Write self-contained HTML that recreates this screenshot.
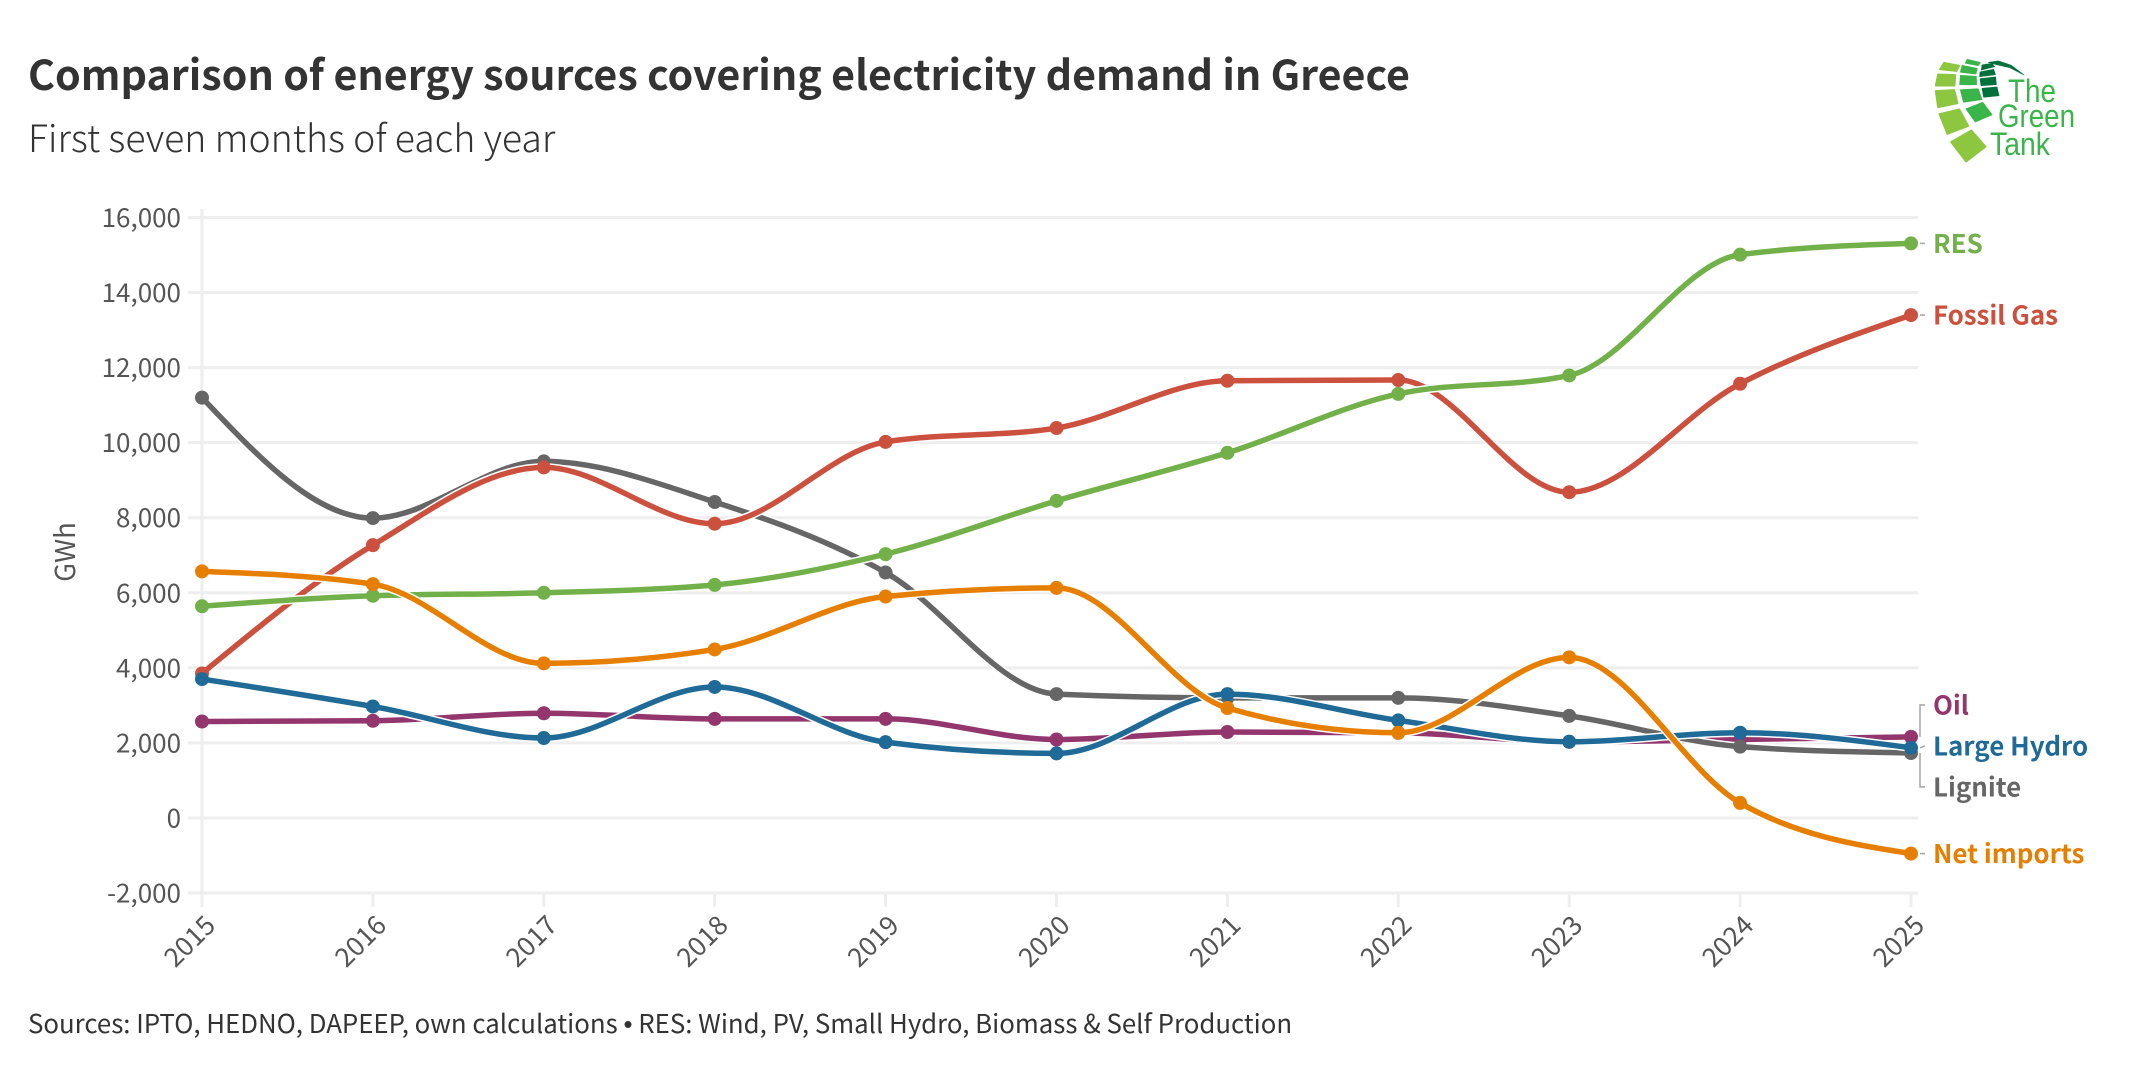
<!DOCTYPE html>
<html lang="en">
<head>
<meta charset="utf-8">
<title>Comparison of energy sources covering electricity demand in Greece</title>
<style>
html,body{margin:0;padding:0;background:#fff;width:2156px;height:1074px;overflow:hidden}
svg{display:block}
text{font-family:"Noto Sans CJK SC","Liberation Sans",sans-serif}
</style>
</head>
<body>
<svg id="chart" xmlns="http://www.w3.org/2000/svg" width="2156" height="1074" viewBox="0 0 2156 1074">
  <rect width="2156" height="1074" fill="#fff"/>
  <text x="28" y="90" font-size="41.2" font-weight="700" fill="#333">Comparison of energy sources covering electricity demand in Greece</text>
  <text x="28" y="152" font-size="37.4" font-weight="300" fill="#333">First seven months of each year</text>
  <text x="28" y="1033" font-size="25.8" fill="#333">Sources: IPTO, HEDNO, DAPEEP, own calculations <tspan style="font-family:'Liberation Sans',sans-serif">•</tspan> RES: Wind, PV, Small Hydro, Biomass &amp; Self Production</text>
  <text transform="translate(75,552) rotate(-90)" text-anchor="middle" font-size="27.5" fill="#555">GWh</text>
  <g id="grid"></g>
  <g id="axes"></g>
  <g id="lines"></g>
  <g id="labels"></g>
  <g>
    <g transform="translate(1850,30) scale(.33333)">
      <g fill="#8dc63f" stroke="#8dc63f" stroke-width="5" stroke-linejoin="round">
        <polygon points="282,98 328,107 320,123 270,118"/>
        <polygon points="264,133 316,135 314,167 257,167"/>
        <polygon points="257,183 313,180 323,220 264,232"/>
        <polygon points="268,252 328,238 355,288 292,312"/>
        <polygon points="303,336 364,301 407,350 348,395"/>
      </g>
      <g fill="#39b54a" stroke="#39b54a" stroke-width="4" stroke-linejoin="round">
        <polygon points="352,89 390,98 384,106 347,99"/>
        <polygon points="337,107 381,116 377,131 332,126"/>
        <polygon points="332,137 378,140 379,163 330,163"/>
        <polygon points="332,180 384,177 395,208 341,216"/>
        <polygon points="349,237 398,218 425,254 376,275"/>
      </g>
      <g fill="#00703c" stroke="#00703c" stroke-width="2" stroke-linejoin="round">
        <polygon points="396,105 426,100 434,110 394,120"/>
        <polygon points="390,126 431,118 436,134 389,140"/>
        <polygon points="390,146 437,141 439,164 393,167"/>
        <polygon points="396,175 441,171 447,197 401,202"/>
        <polygon points="415,97 445,93 484,106 522,135 480,113 440,104"/>
      </g>
    </g>
    <text x="2008" y="102" font-size="32.5" fill="#39b54a" textLength="48" lengthAdjust="spacingAndGlyphs" style="font-family:'Liberation Sans',sans-serif">The</text>
    <text x="1998" y="127" font-size="32.5" fill="#39b54a" textLength="77" lengthAdjust="spacingAndGlyphs" style="font-family:'Liberation Sans',sans-serif">Green</text>
    <text x="1990" y="155" font-size="32.5" fill="#39b54a" textLength="60" lengthAdjust="spacingAndGlyphs" style="font-family:'Liberation Sans',sans-serif">Tank</text>
  </g>
</svg>
<script>
const years = [2015,2016,2017,2018,2019,2020,2021,2022,2023,2024,2025];
const yTicks = [-2000,0,2000,4000,6000,8000,10000,12000,14000,16000];
const oilValues      = [2570,2590,2790,2640,2640,2090,2290,2270,2030,2090,2160];
const ligniteValues  = [11200,7990,9500,8420,6540,3300,3200,3200,2720,1900,1730];
const fossilValues   = [3850,7270,9340,7840,10020,10390,11650,11670,8680,11570,13400];
const resValues      = [5640,5920,6000,6210,7030,8450,9730,11300,11790,15010,15310];
const hydroValues    = [3700,2970,2130,3490,2020,1720,3300,2600,2030,2270,1870];
const importsValues  = [6570,6230,4120,4490,5900,6130,2930,2270,4280,400,-950];

const series = [
  {name:'Oil', key:'oil', color:'#93366e', values:oilValues},
  {name:'Lignite', key:'lignite', color:'#666666', values:ligniteValues},
  {name:'Fossil Gas', key:'fossil-gas', color:'#cb513e', values:fossilValues},
  {name:'RES', key:'res', color:'#72b04a', values:resValues},
  {name:'Large Hydro', key:'large-hydro', color:'#1f6a96', values:hydroValues},
  {name:'Net imports', key:'net-imports', color:'#e67e00', values:importsValues}
];

const NS = 'http://www.w3.org/2000/svg';
const plot = {left:202, right:1911, top:217.5, bottom:893};
const yMin = -2000, yMax = 16000;
const xScale = y => plot.left + (y - years[0]) / (years[years.length-1] - years[0]) * (plot.right - plot.left);
const yScale = v => plot.bottom - (v - yMin) / (yMax - yMin) * (plot.bottom - plot.top);
const fmt = v => (v < 0 ? '-' : '') + String(Math.abs(v)).replace(/\B(?=(\d{3})+$)/g, ',');

function make(tag, attrs, parent){
  const el = document.createElementNS(NS, tag);
  for (const k in attrs) el.setAttribute(k, attrs[k]);
  parent.appendChild(el);
  return el;
}
function sign(v){ return v < 0 ? -1 : 1; }
function monotonePath(pts){
  const n = pts.length, t = new Array(n);
  for (let i = 1; i < n-1; i++){
    const h0 = pts[i][0]-pts[i-1][0], h1 = pts[i+1][0]-pts[i][0];
    const s0 = (pts[i][1]-pts[i-1][1])/h0, s1 = (pts[i+1][1]-pts[i][1])/h1;
    const p = (s0*h1+s1*h0)/(h0+h1);
    t[i] = (sign(s0)+sign(s1))*Math.min(Math.abs(s0),Math.abs(s1),0.5*Math.abs(p));
  }
  const end = (a,b,tb) => { const h = b[0]-a[0]; return (3*(b[1]-a[1])/h - tb)/2; };
  t[0] = end(pts[0],pts[1],t[1]);
  t[n-1] = end(pts[n-2],pts[n-1],t[n-2]);
  let d = 'M' + pts[0][0] + ',' + pts[0][1];
  for (let i = 0; i < n-1; i++){
    const dx = (pts[i+1][0]-pts[i][0])/3;
    d += 'C' + (pts[i][0]+dx) + ',' + (pts[i][1]+dx*t[i]) + ' ' + (pts[i+1][0]-dx) + ',' + (pts[i+1][1]-dx*t[i+1]) + ' ' + pts[i+1][0] + ',' + pts[i+1][1];
  }
  return d;
}

const grid = document.getElementById('grid');
const axes = document.getElementById('axes');
const linesG = document.getElementById('lines');
const labelsG = document.getElementById('labels');

yTicks.forEach(v => {
  const line = make('line', {x1:188, x2:1918, y1:yScale(v), y2:yScale(v), stroke:'#eeeeee', 'stroke-width':3}, grid);
  
  
  const tx = make('text', {x:181, y:yScale(v)+9.5, 'text-anchor':'end', 'font-size':26, fill:'#555'}, axes);
  
  
  tx.textContent = fmt(v);
});
years.forEach(y => {
  const x = xScale(y);
  const tick = make('line', {x1:x, x2:x, y1:plot.bottom, y2:907, stroke:'#eeeeee', 'stroke-width':3}, grid);
  
  
  const tx = make('text', {transform:'translate(' + (x+15) + ',927) rotate(-45)', 'text-anchor':'end', 'font-size':26.5, fill:'#555'}, axes);
  
  
  tx.textContent = y;
});
const yAxisLine = make('line', {x1:plot.left, x2:plot.left, y1:209, y2:907, stroke:'#eeeeee', 'stroke-width':3}, grid);



series.forEach(s => {
  const g = make('g', {}, linesG);
  
  
  const pts = s.values.map((v,i) => [xScale(years[i]), yScale(v)]);
  const d = monotonePath(pts);
  const halo = make('path', {d:d, fill:'none', stroke:'#fff', 'stroke-width':8.5}, g);
  
  
  const path = make('path', {d:d, fill:'none', stroke:s.color, 'stroke-width':5.5}, g);
  
  
  pts.forEach(p => {
    const c = make('circle', {cx:p[0], cy:p[1], r:7, fill:s.color}, g);
    
    
  });
});

// end labels: spread vertically to avoid collisions
const minGap = 41;
let items = series.map(s => ({s:s, end:yScale(s.values[s.values.length-1])})).sort((a,b) => a.end-b.end);
let clusters = items.map(it => ({members:[it], center:it.end}));
let merged = true;
while (merged){
  merged = false;
  for (let i = 0; i < clusters.length-1; i++){
    const a = clusters[i], b = clusters[i+1];
    const aBottom = a.center + (a.members.length-1)*minGap/2;
    const bTop = b.center - (b.members.length-1)*minGap/2;
    if (bTop - aBottom < minGap){
      const members = a.members.concat(b.members);
      const center = members.reduce((t,m) => t+m.end, 0)/members.length;
      clusters.splice(i, 2, {members:members, center:center});
      merged = true;
      break;
    }
  }
}
clusters.forEach(c => {
  c.members.forEach((m,i) => {
    const ly = c.center + (i-(c.members.length-1)/2)*minGap;
    const d = 'M1920,' + m.end + 'L1920,' + ly + 'L1925,' + ly;
    const lead = make('path', {d: Math.abs(ly-m.end) < 3 ? 'M1920,' + m.end + 'L1925,' + ly : d, fill:'none', stroke:'#aaaaaa', 'stroke-width':1.6}, labelsG);
    
    
    const tx = make('text', {x:1933, y:ly+9.5, 'font-size':25.9, 'font-weight':700, fill:m.s.color}, labelsG);
    
    
    tx.textContent = m.s.name;
  });
});
</script>
</body>
</html>
